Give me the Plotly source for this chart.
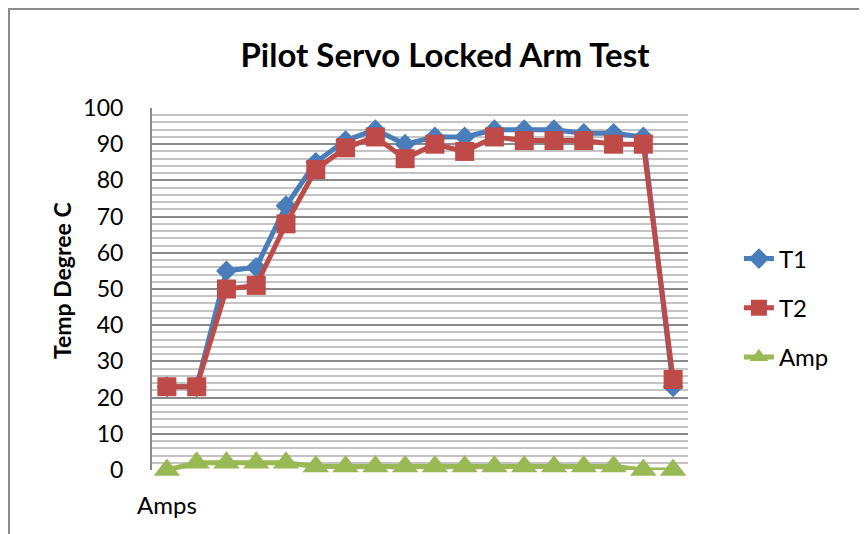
import plotly.graph_objects as go

categories = ["Amps"] + [""] * 17
t1 = [23, 23, 55, 56, 73, 85, 91, 94, 90, 92, 92, 94, 94, 94, 93, 93, 92, 23]
t2 = [23, 23, 50, 51, 68, 83, 89, 92, 86, 90, 88, 92, 91, 91, 91, 90, 90, 25]
amp = [0, 2, 2, 2, 2, 1, 1, 1, 1, 1, 1, 1, 1, 1, 1, 1, 0, 0]
y_ticks = list(range(0, 101, 10))

FONT = "Lato"
xs = list(range(len(categories)))

# plot area in figure pixels
L, T, PW, PH = 144, 100, 536, 362
W, H = 867, 534

fig = go.Figure()
fig.add_trace(go.Scatter(x=xs, y=t1, name="T1", mode="lines+markers",
                         line=dict(color="#4A7EBB", width=5),
                         marker=dict(symbol="diamond", size=16, color="#4A7EBB"),
                         legendgroup="a", cliponaxis=False))
fig.add_trace(go.Scatter(x=xs, y=t2, name="T2", mode="lines+markers",
                         line=dict(color="#BE4B48", width=5),
                         marker=dict(symbol="square", size=19, color="#BE4B48"),
                         legendgroup="b", cliponaxis=False))
fig.add_trace(go.Scatter(x=xs, y=amp, name="Amp", mode="lines+markers",
                         line=dict(color="#98B954", width=5),
                         marker=dict(symbol="triangle-up", size=23, color="#98B954"),
                         legendgroup="c", cliponaxis=False))

fig.update_layout(
    width=W, height=H,
    margin=dict(l=L, r=W - L - PW, t=T, b=H - T - PH, autoexpand=False),
    paper_bgcolor="white", plot_bgcolor="white",
    font=dict(family=FONT, color="black"),
    title=dict(text="<b>Pilot Servo Locked Arm Test</b>", x=437 / W, xanchor="center",
               y=1 - 47 / H, yanchor="middle", xref="container", yref="container",
               font=dict(size=33, family=FONT, color="black")),
    showlegend=True,
    legend=dict(x=1.095, xanchor="left", y=0.4475, yanchor="middle",
                font=dict(size=24, family=FONT), tracegroupgap=15,
                traceorder="grouped", bgcolor="rgba(0,0,0,0)"),
    xaxis=dict(range=[-0.5, 17.5], tickvals=xs, ticktext=categories,
               showgrid=False, zeroline=False, showline=False,
               ticks="outside", ticklen=14, tickcolor="rgba(0,0,0,0)",
               tickfont=dict(size=24, family=FONT)),
    yaxis=dict(range=[0, 100], tickvals=y_ticks, showgrid=True,
               gridcolor="#8A8A8A", gridwidth=2, zeroline=False,
               showline=True, linecolor="#8A8A8A", linewidth=2,
               ticks="outside", ticklen=22, tickcolor="rgba(0,0,0,0)",
               tickfont=dict(size=23, family=FONT),
               minor=dict(dtick=2, showgrid=True, gridcolor="#C4C4C4", gridwidth=1.5)),
)

fig.add_annotation(text="<b>Temp Degree C</b>", textangle=-90, xref="paper", yref="paper",
                   x=(54 - L) / PW, y=(T + PH - 273) / PH, xanchor="center", yanchor="middle",
                   showarrow=False, font=dict(size=23, family=FONT, color="black"))

fig.add_shape(type="rect", xref="paper", yref="paper",
              x0=(1 - L) / PW, x1=1.45, y0=-0.3, y1=(T + PH - 1) / PH,
              line=dict(color="#8A8A8A", width=2), fillcolor="rgba(0,0,0,0)",
              layer="below")

fig.write_html("out.html")
